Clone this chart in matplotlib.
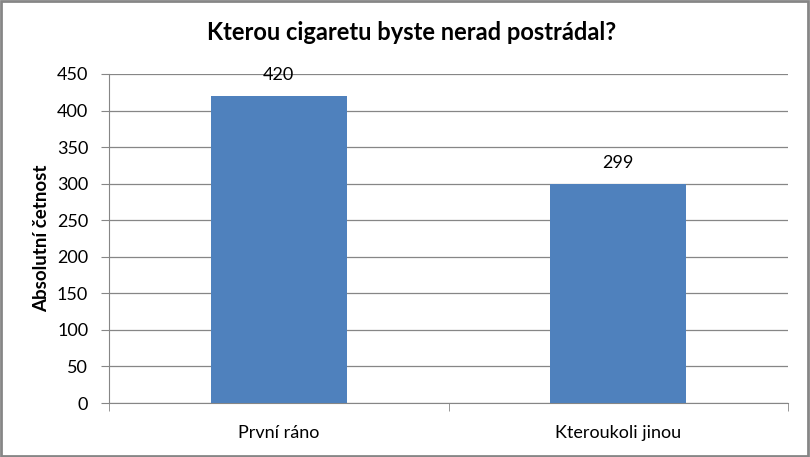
import matplotlib
matplotlib.use('Agg')
import matplotlib.pyplot as plt
from matplotlib.patches import Rectangle
import numpy as np

categories = ['První ráno', 'Kteroukoli jinou']
values = [420, 299]
yticks = [0, 50, 100, 150, 200, 250, 300, 350, 400, 450]

plt.rcParams['font.family'] = ['Lato', 'DejaVu Sans']
grey = '#868686'
bar_color = '#4f81bd'

fig = plt.figure(figsize=[8.1, 4.57], dpi=100)
ax = fig.add_axes([109/810, 1-403/457, (788-109)/810, (403-74)/457])

x = np.arange(len(categories))
bars = ax.bar(x, values, width=0.4, color=bar_color, zorder=3)
for b, v in zip(bars, values):
    ax.text(b.get_x()+b.get_width()/2, v+29, str(v), ha='center', va='center',
            fontsize=13, color='#000000')

ax.set_xlim(-0.5, len(categories)-0.5)
ax.set_ylim(0, 450)
ax.set_yticks(yticks)
ax.yaxis.grid(True, color=grey, linewidth=0.9, zorder=0)
ax.set_xticks(x)
ax.set_xticklabels(categories, fontsize=13)
ax.set_xticks([-0.5, 0.5, 1.5], minor=True)
ax.tick_params(axis='x', which='major', length=0, pad=16)
ax.tick_params(axis='x', which='minor', length=6, color=grey, direction='out')
ax.tick_params(axis='y', length=6, color=grey, labelsize=13, pad=9)
for side in ['top', 'right']:
    ax.spines[side].set_visible(False)
for side in ['left', 'bottom']:
    ax.spines[side].set_color(grey)
fig.text(42/810, 1-238/457, 'Absolutní četnost', fontsize=13.5, fontweight='bold',
         rotation=90, ha='center', va='center')
fig.text(412/810, 1-33/457, 'Kterou cigaretu byste nerad postrádal?', fontsize=17,
         fontweight='bold', ha='center', va='center')

fig.patches.append(Rectangle((0.001, 0.002), 0.997, 0.995, transform=fig.transFigure,
                             fill=False, edgecolor=grey, linewidth=2))
plt.savefig('out.png', dpi=100)
